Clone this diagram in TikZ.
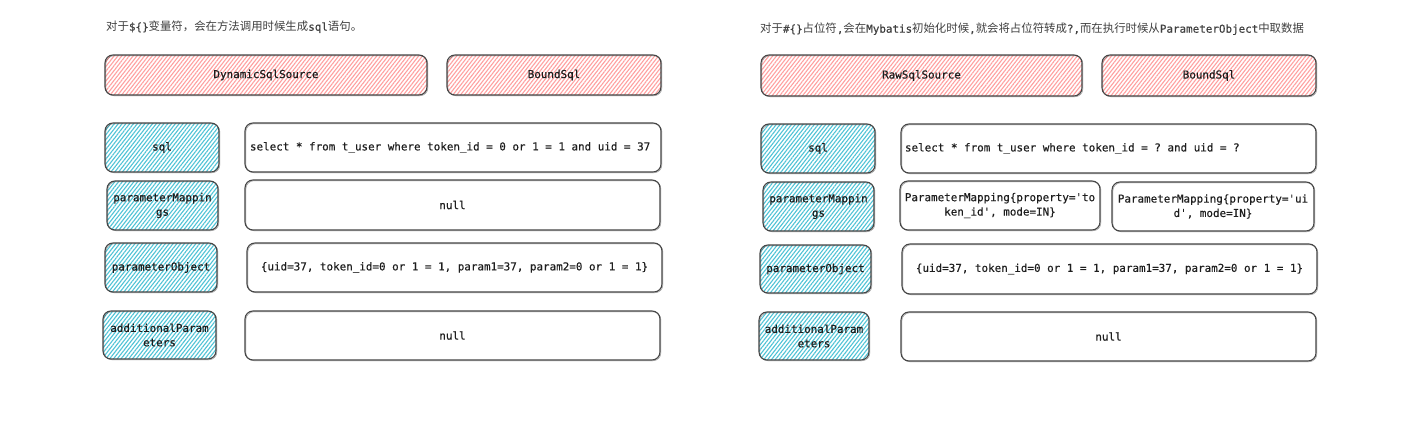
\documentclass[tikz,border=0pt]{standalone}
\usepackage{fontspec}
\setmainfont{DejaVu Sans Mono}
\setmonofont{DejaVu Sans Mono}[FakeBold=0.35]
\newfontfamily\cjk{Noto Sans CJK SC}
\usetikzlibrary{patterns.meta}
\definecolor{ink}{HTML}{1E1E1E}
\definecolor{edge}{HTML}{454545}
\definecolor{pinkh}{HTML}{FFA0A0}
\definecolor{cyanh}{HTML}{4FC3D6}
\newcommand\zh[1]{{\fontsize{11.4}{14}\selectfont\cjk #1}}
\tikzset{
  box/.style={draw=edge, line width=1.1pt, rounded corners=8pt, inner sep=2pt,
    font=\ttfamily\fontsize{10.9}{14.4}\selectfont, text=ink, align=center,
    postaction={draw=edge, line width=0.5pt, opacity=0.55, rounded corners=8pt,
      transform canvas={shift={(0.9pt,-0.8pt)}}}},
  hdr/.style={box, pattern={Lines[angle=52,distance=3pt,line width=1.1pt]}, pattern color=pinkh},
  keybox/.style={box, pattern={Lines[angle=52,distance=3pt,line width=1.1pt]}, pattern color=cyanh},
  val/.style={box, fill=white},
  ttl/.style={text=ink!85, inner sep=0pt, anchor=west, font=\ttfamily\fontsize{10.9}{14}\selectfont}
}
\begin{document}
\begin{tikzpicture}[x=1pt,y=-1pt]
\fill[white] (0,0) rectangle (1412,431);
\useasboundingbox (0,0) rectangle (1412,431);

% ---------- left ----------
\node[ttl] (t1) at (106,27) {\zh{对于}\$\{\}\zh{变量符，会在方法调用时候生成}sql\zh{语句。}};

\node[hdr, minimum width=322pt, minimum height=40pt] (dss) at (266,75) {DynamicSqlSource};
\node[hdr, minimum width=214pt, minimum height=40pt] (bsL) at (554,75) {BoundSql};

\node[keybox, minimum width=114pt, minimum height=49pt] (sqlL) at (162,147.5) {sql};
\node[val, minimum height=49pt, inner xsep=5pt] (sqlvL) at (453,147.5) {\makebox[406pt][l]{select * from t\_user where token\_id = 0 or 1 = 1 and uid = 37}};

\node[keybox, minimum width=111pt, minimum height=49pt] (pmL) at (162.5,205.5) {parameterMappin\\gs};
\node[val, minimum width=415pt, minimum height=50pt] (pmvL) at (452.5,205) {null};

\node[keybox, minimum width=112pt, minimum height=49pt] (poL) at (161,267.5) {parameterObject};
\node[val, minimum width=415pt, minimum height=49pt] (povL) at (454.5,267.5) {\{uid=37, token\_id=0 or 1 = 1, param1=37, param2=0 or 1 = 1\}};

\node[keybox, minimum width=113pt, minimum height=48pt] (apL) at (159.5,335) {additionalParam\\eters};
\node[val, minimum width=415pt, minimum height=49pt] (apvL) at (452.5,335.5) {null};

% ---------- right ----------
\node[ttl] (t2) at (760,29) {\zh{对于}\#\{\}\zh{占位符},\zh{会在}Mybatis\zh{初始化时候},\zh{就会将占位符转成}?,\zh{而在执行时候从}ParameterObject\zh{中取数据}};

\node[hdr, minimum width=321pt, minimum height=41pt] (rss) at (921.5,75.5) {RawSqlSource};
\node[hdr, minimum width=214pt, minimum height=41pt] (bsR) at (1209,75.5) {BoundSql};

\node[keybox, minimum width=114pt, minimum height=49pt] (sqlR) at (818,148.5) {sql};
\node[val, minimum height=49pt, inner xsep=4pt] (sqlvR) at (1108.5,148.5) {\makebox[407pt][l]{select * from t\_user where token\_id = ? and uid = ?}};

\node[keybox, minimum width=111pt, minimum height=49pt] (pmR) at (818.5,206.5) {parameterMappin\\gs};
\node[val, minimum width=200pt, minimum height=49pt] (pm1) at (1000,205.5) {ParameterMapping\{property='to\\ken\_id', mode=IN\}};
\node[val, minimum width=202pt, minimum height=49pt] (pm2) at (1213,206.5) {ParameterMapping\{property='ui\\d', mode=IN\}};

\node[keybox, minimum width=111pt, minimum height=48pt] (poR) at (815.5,269) {parameterObject};
\node[val, minimum width=415pt, minimum height=50pt] (povR) at (1109.5,269) {\{uid=37, token\_id=0 or 1 = 1, param1=37, param2=0 or 1 = 1\}};

\node[keybox, minimum width=110pt, minimum height=48pt] (apR) at (814,336) {additionalParam\\eters};
\node[val, minimum width=415pt, minimum height=49pt] (apvR) at (1108.5,336.5) {null};
\end{tikzpicture}
\end{document}
